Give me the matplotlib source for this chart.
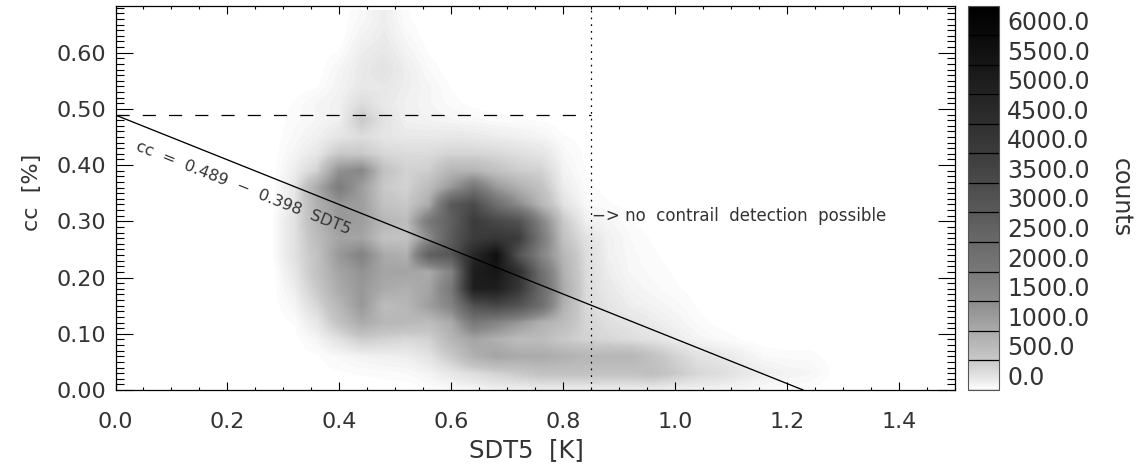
import numpy as np
import matplotlib
matplotlib.use("Agg")
import matplotlib.pyplot as plt
from matplotlib.colors import LinearSegmentedColormap
from matplotlib.ticker import MultipleLocator

plt.rcParams['font.family'] = ['DejaVu Sans']

# histogram, in hundreds of counts
sdt_centers = [0.28, 0.32, 0.36, 0.40, 0.44, 0.48, 0.52, 0.56, 0.60, 0.64, 0.68, 0.72, 0.76,
               0.80, 0.84, 0.88, 0.92, 0.96, 1.00, 1.04, 1.08, 1.12, 1.16, 1.20, 1.24, 1.28]
cc_centers = [0.00, 0.03, 0.06, 0.09, 0.12, 0.15, 0.18, 0.21, 0.24, 0.27, 0.30, 0.33,
              0.36, 0.39, 0.42, 0.45, 0.48, 0.51, 0.54, 0.57, 0.60, 0.63, 0.66]
hist_rows = [
    [0, 0, 0, 0, 0, 0, 0, .2, .4, .6, 1, 1, 1.2, 1.2, 1.2, 1.2, 1.2, 1.2, 1, 1, .8, .6, .4, .3, .2, 0],
    [0, 0, .1, .2, .3, .4, .5, 1, 2, 3, 4, 5, 6, 6, 6, 6, 6, 6.5, 5, 3.5, 3, 2, 1.4, 1, .8, .2],
    [0, 0, .2, .6, 1, 1.2, 1.4, 2.4, 5, 9, 11, 10, 10, 9, 8, 8, 8, 6, 4, 2.5, 2, 1.2, .5, .4, .4, .1],
    [0, .1, .8, 2.5, 4.5, 4, 3.5, 4, 8, 11, 9, 7, 7, 5, 4, 3.5, 3, 2.4, 1.6, .9, .5, .2, 0, 0, 0, 0],
    [0, .3, 2, 6, 10, 8, 7.5, 7, 10, 20, 17, 13, 9, 7, 3.8, 2.8, 2.2, 1.6, 1, .4, .1, 0, 0, .1, .1, 0],
    [0, .8, 3.5, 8, 13, 7, 8, 12, 17, 33, 36, 32, 23, 9, 3.4, 2.2, 1.4, 1, .6, .2, 0, 0, 0, 0, 0, 0],
    [0, 1.4, 5, 10, 13, 10, 9, 11, 20, 52, 52, 42, 25, 10, 3.2, 1.8, 1, .6, .3, .1, 0, 0, 0, 0, 0, 0],
    [0, 2, 6, 11, 14, 11, 11, 10, 17, 52, 55, 45, 23, 9, 3.2, 1.5, .7, .4, .2, 0, 0, 0, 0, 0, 0, 0],
    [.2, 2.5, 6, 13, 17, 10, 9, 28, 31, 48, 58, 32, 17, 8, 3, 1.2, .6, .3, .1, 0, 0, 0, 0, 0, 0, 0],
    [.2, 2.5, 7, 11, 11, 6, 6, 15, 30, 40, 42, 40, 20, 6, 2.5, 1.2, .5, .2, 0, 0, 0, 0, 0, 0, 0, 0],
    [.2, 2.5, 8, 13, 12, 8, 7, 20, 28, 40, 36, 33, 17, 5, 1.2, .8, .3, 0, 0, 0, 0, 0, 0, 0, 0, 0],
    [0, 2, 9, 13, 12, 6, 5, 10, 30, 35, 23, 15, 8, 2.5, .6, .3, .1, 0, 0, 0, 0, 0, 0, 0, 0, 0],
    [0, 2, 10, 19, 12, 5, 4, 7, 13, 21, 13, 9, 6, 1.5, .4, .1, 0, 0, 0, 0, 0, 0, 0, 0, 0, 0],
    [0, 1.4, 4, 14, 16, 6, 4, 4.5, 8, 8, 6, 4.5, 4, 1, .2, 0, 0, 0, 0, 0, 0, 0, 0, 0, 0, 0],
    [0, .9, 2, 5, 5, 3.5, 3.2, 3.2, 3.8, 3.8, 3.4, 2.8, 2.2, .7, .15, 0, 0, 0, 0, 0, 0, 0, 0, 0, 0, 0],
    [0, .6, 1.2, 2.2, 3, 2.2, 1.8, 1.8, 2, 1.8, 1.5, 1.2, .9, .3, .1, 0, 0, 0, 0, 0, 0, 0, 0, 0, 0, 0],
    [0, .4, .8, 1.2, 5, 2.4, 1.2, 1, .8, .6, .4, .3, .2, 0, 0, 0, 0, 0, 0, 0, 0, 0, 0, 0, 0, 0],
    [0, .3, .8, 1.2, 3, 1.8, 1.2, .8, .4, .1, 0, 0, 0, 0, 0, 0, 0, 0, 0, 0, 0, 0, 0, 0, 0, 0],
    [0, 0, .2, 1, 1.8, 2, 1.4, .8, .2, 0, 0, 0, 0, 0, 0, 0, 0, 0, 0, 0, 0, 0, 0, 0, 0, 0],
    [0, 0, 0, .8, 1.8, 2.5, 1.4, .5, 0, 0, 0, 0, 0, 0, 0, 0, 0, 0, 0, 0, 0, 0, 0, 0, 0, 0],
    [0, 0, 0, .3, 1.5, 2, 1, .2, 0, 0, 0, 0, 0, 0, 0, 0, 0, 0, 0, 0, 0, 0, 0, 0, 0, 0],
    [0, 0, 0, 0, 1, 1.6, .6, 0, 0, 0, 0, 0, 0, 0, 0, 0, 0, 0, 0, 0, 0, 0, 0, 0, 0, 0],
    [0, 0, 0, 0, .6, 1.4, .3, 0, 0, 0, 0, 0, 0, 0, 0, 0, 0, 0, 0, 0, 0, 0, 0, 0, 0, 0],
]
cbar_levels = [0, 500, 1000, 1500, 2000, 2500, 3000, 3500, 4000, 4500, 5000, 5500, 6000]
cbar_top = 6490
fit_intercept = 0.489
fit_slope = -0.398
sdt_limit = 0.85
cc_limit = 0.49

counts = np.array(hist_rows) * 100

grey_stops = [(0, 255), (150, 235), (500, 200), (1000, 170), (1500, 140), (2000, 120),
              (3000, 90), (4000, 60), (5000, 35), (6000, 10), (cbar_top, 0)]
cmap = LinearSegmentedColormap.from_list(
    'counts', [(c / cbar_top, (g / 255, g / 255, g / 255)) for c, g in grey_stops])

W, H = 1139, 466
text_col = '#333333'
fig = plt.figure(figsize=(W / 100, H / 100), dpi=100)
ax = fig.add_axes([115.5 / W, 1 - 390 / H, 839.5 / W, 384 / H])
cax = fig.add_axes([968 / W, 1 - 390 / H, 31 / W, 384 / H])

dx = sdt_centers[1] - sdt_centers[0]
dy = cc_centers[1] - cc_centers[0]
im = ax.imshow(counts, origin='lower', aspect='auto', cmap=cmap, vmin=0, vmax=cbar_top,
               interpolation='bilinear',
               extent=[sdt_centers[0] - dx / 2, sdt_centers[-1] + dx / 2,
                       cc_centers[0] - dy / 2, cc_centers[-1] + dy / 2])

ax.axline((0, fit_intercept), slope=fit_slope, color='k', lw=0.95)
ax.plot([0, sdt_limit], [cc_limit, cc_limit], color='k', lw=0.9, dashes=(10.5, 10.5))
ax.plot([sdt_limit, sdt_limit], [0, 0.683], color='k', lw=0.9, dashes=(1.4, 4))

ax.set_xlim(0, 1.5)
ax.set_ylim(0, 0.683)
ax.xaxis.set_major_locator(MultipleLocator(0.2))
ax.xaxis.set_minor_locator(MultipleLocator(0.05))
ax.yaxis.set_major_locator(MultipleLocator(0.1))
ax.yaxis.set_minor_locator(MultipleLocator(0.01))
ax.xaxis.set_major_formatter(lambda v, p: f'{v:.1f}')
ax.yaxis.set_major_formatter(lambda v, p: f'{v:.2f}')
ax.tick_params(axis='x', which='major', direction='in', top=True, length=6, width=0.8,
               labelsize=16, pad=15.5, labelcolor=text_col)
ax.tick_params(axis='x', which='minor', direction='in', top=True, length=2.5, width=0.8)
ax.tick_params(axis='y', which='major', direction='in', right=True, length=12, width=0.8,
               labelsize=16, pad=7, labelcolor=text_col)
ax.tick_params(axis='y', which='minor', direction='in', right=True, length=6, width=0.8)
ax.get_yticklabels()[0].set_va('bottom')
for s in ax.spines.values():
    s.set_linewidth(0.9)

fig.text(526 / W, 1 - 450 / H, 'SDT5  [K]', ha='center', va='center', fontsize=17.5, color=text_col)
fig.text(32 / W, 1 - 192 / H, 'cc  [%]', ha='center', va='center', rotation=90, fontsize=16, color=text_col)
fig.text(243 / W, 1 - 188 / H, 'cc  =  0.489  \u2212  0.398  SDT5', ha='center', va='center',
         rotation=-21.6, rotation_mode='anchor', fontsize=11.5, color=text_col)
fig.text(592 / W, 1 - 216 / H, '\u2212> no  contrail  detection  possible', ha='left', va='center',
         fontsize=12, color=text_col)

cb = fig.colorbar(im, cax=cax, ticks=cbar_levels)
cb.ax.set_yticklabels([f'{v:.1f}' for v in cbar_levels])
cb.ax.tick_params(length=0, labelsize=17, pad=6, labelcolor=text_col)
for t in cb.ax.get_yticklabels():
    t.set_va('bottom')
cb.ax.hlines(cbar_levels, 0, 1, color='k', lw=0.9, transform=cb.ax.get_yaxis_transform())
cb.outline.set_edgecolor('#555555')
fig.text(1121 / W, 1 - 198 / H, 'counts', ha='center', va='center', rotation=-90, fontsize=17, color=text_col)

fig.savefig('out.png', dpi=100)
